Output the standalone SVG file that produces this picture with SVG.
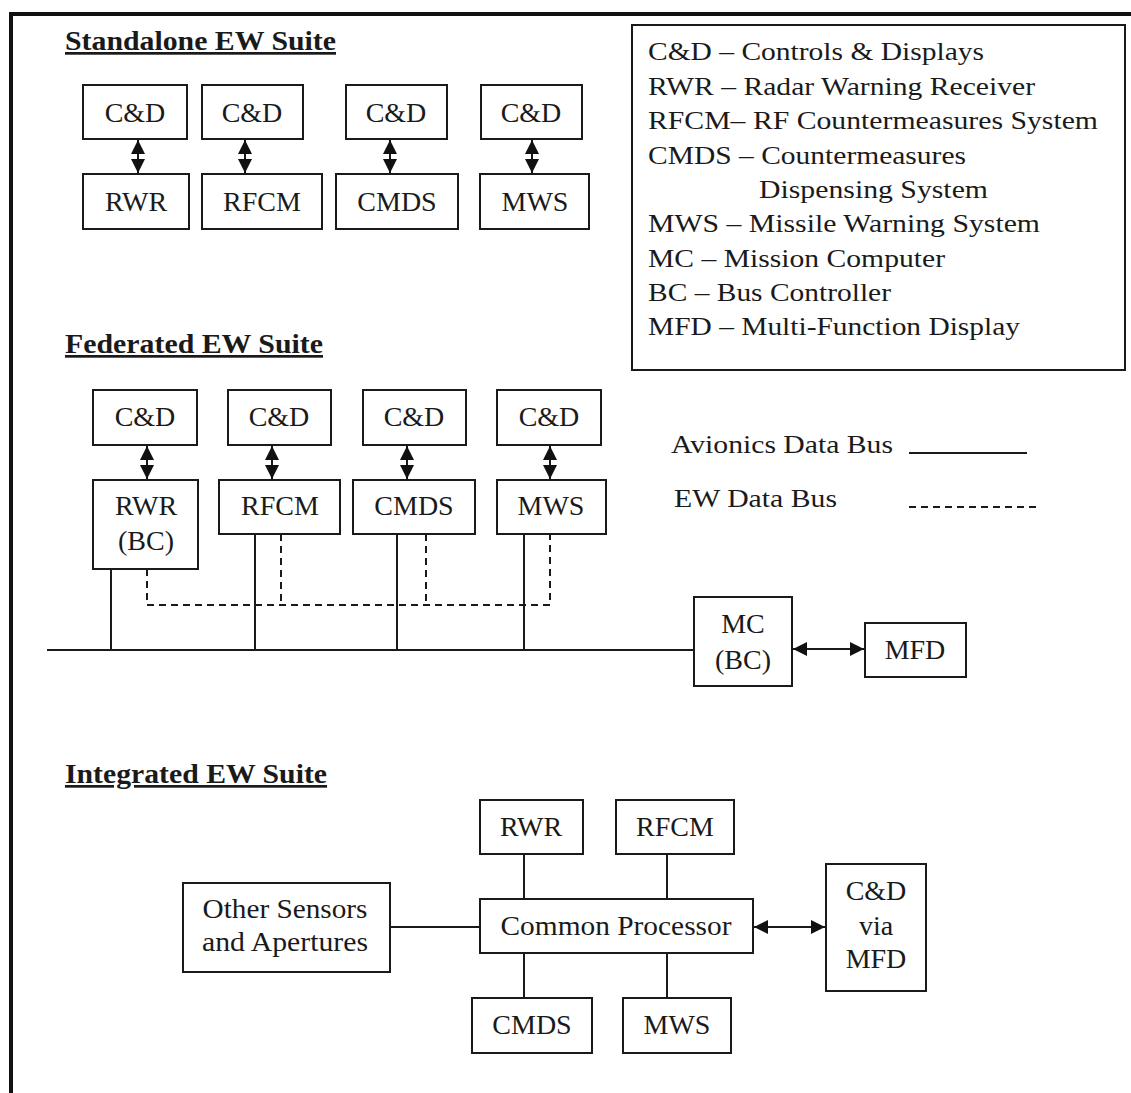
<svg xmlns="http://www.w3.org/2000/svg" width="1131" height="1093" viewBox="0 0 1131 1093">
<style>
  .box { fill: #fff; stroke: #1a1a1a; stroke-width: 2; }
  .lbl { font-family: "Liberation Serif", "Times New Roman", serif; font-size: 28px; fill: #1a1a1a; text-anchor: middle; }
  .leg { font-family: "Liberation Serif", "Times New Roman", serif; font-size: 26px; fill: #1a1a1a; }
  .ttl { font-family: "Liberation Serif", "Times New Roman", serif; font-size: 27px; font-weight: bold; fill: #1a1a1a; text-decoration: underline; }
  .ln { fill: none; stroke: #1a1a1a; stroke-width: 2; }
  .dash { fill: none; stroke: #1a1a1a; stroke-width: 2; stroke-dasharray: 7 5; }
  .arr { fill: none; stroke: #1a1a1a; stroke-width: 2; marker-start: url(#ah); marker-end: url(#ah); }
</style>
<defs>
  <marker id="ah" markerUnits="userSpaceOnUse" markerWidth="14" markerHeight="14" viewBox="0 0 14 14" refX="14" refY="7" orient="auto-start-reverse">
    <path d="M0,0 L14,7 L0,14 z" fill="#111"/>
  </marker>
</defs>
<rect width="1131" height="1093" fill="#fff"/>
<g id="frame">
  <line x1="11" y1="14" x2="1131" y2="14" stroke="#111" stroke-width="4"/>
  <line x1="11" y1="12" x2="11" y2="1093" stroke="#111" stroke-width="4"/>
</g>

<g id="titles">
  <text class="ttl" x="65" y="50" textLength="271" lengthAdjust="spacingAndGlyphs">Standalone EW Suite</text>
  <text class="ttl" x="65" y="353" textLength="258" lengthAdjust="spacingAndGlyphs">Federated EW Suite</text>
  <text class="ttl" x="65" y="783" textLength="262" lengthAdjust="spacingAndGlyphs">Integrated EW Suite</text>
</g>

<g id="legend">
  <rect class="box" x="632" y="25" width="493" height="345"/>
  <text class="leg" x="648" y="60" textLength="336" lengthAdjust="spacingAndGlyphs">C&amp;D – Controls &amp; Displays</text>
  <text class="leg" x="648" y="94.5" textLength="387" lengthAdjust="spacingAndGlyphs">RWR – Radar Warning Receiver</text>
  <text class="leg" x="648" y="129" textLength="450" lengthAdjust="spacingAndGlyphs">RFCM– RF Countermeasures System</text>
  <text class="leg" x="648" y="163.5" textLength="318" lengthAdjust="spacingAndGlyphs">CMDS – Countermeasures</text>
  <text class="leg" x="759" y="198" textLength="229" lengthAdjust="spacingAndGlyphs">Dispensing System</text>
  <text class="leg" x="648" y="232" textLength="392" lengthAdjust="spacingAndGlyphs">MWS – Missile  Warning System</text>
  <text class="leg" x="648" y="266.5" textLength="297" lengthAdjust="spacingAndGlyphs">MC – Mission Computer</text>
  <text class="leg" x="648" y="301" textLength="243" lengthAdjust="spacingAndGlyphs">BC – Bus Controller</text>
  <text class="leg" x="648" y="335" textLength="372" lengthAdjust="spacingAndGlyphs">MFD – Multi-Function Display</text>
</g>

<g id="bus-legend">
  <text class="leg" x="671" y="453" textLength="222" lengthAdjust="spacingAndGlyphs">Avionics Data Bus</text>
  <line class="ln" x1="909" y1="453" x2="1027" y2="453"/>
  <text class="leg" x="674" y="507" textLength="163" lengthAdjust="spacingAndGlyphs">EW Data Bus</text>
  <line class="dash" x1="909" y1="507" x2="1036" y2="507"/>
</g>

<!-- Standalone nodes -->
<g id="s-cd1"><rect class="box" x="83" y="85" width="104" height="54"/><text class="lbl" x="135" y="121.5">C&amp;D</text></g>
<g id="s-cd2"><rect class="box" x="202" y="85" width="101" height="54"/><text class="lbl" x="252" y="121.5">C&amp;D</text></g>
<g id="s-cd3"><rect class="box" x="346" y="85" width="101" height="54"/><text class="lbl" x="396" y="121.5">C&amp;D</text></g>
<g id="s-cd4"><rect class="box" x="481" y="85" width="101" height="54"/><text class="lbl" x="531" y="121.5">C&amp;D</text></g>
<g id="s-rwr"><rect class="box" x="83" y="174" width="106" height="55"/><text class="lbl" x="136" y="211">RWR</text></g>
<g id="s-rfcm"><rect class="box" x="202" y="174" width="120" height="55"/><text class="lbl" x="262" y="211">RFCM</text></g>
<g id="s-cmds"><rect class="box" x="336" y="174" width="122" height="55"/><text class="lbl" x="397" y="211">CMDS</text></g>
<g id="s-mws"><rect class="box" x="480" y="174" width="109" height="55"/><text class="lbl" x="535" y="211">MWS</text></g>

<!-- Federated nodes -->
<g id="f-cd1"><rect class="box" x="93" y="390" width="104" height="55"/><text class="lbl" x="145" y="426">C&amp;D</text></g>
<g id="f-cd2"><rect class="box" x="228" y="390" width="103" height="55"/><text class="lbl" x="279" y="426">C&amp;D</text></g>
<g id="f-cd3"><rect class="box" x="363" y="390" width="103" height="55"/><text class="lbl" x="414" y="426">C&amp;D</text></g>
<g id="f-cd4"><rect class="box" x="497" y="390" width="104" height="55"/><text class="lbl" x="549" y="426">C&amp;D</text></g>
<g id="f-rwr"><rect class="box" x="93" y="480" width="105" height="89"/><text class="lbl" x="146" y="515">RWR</text><text class="lbl" x="146" y="550">(BC)</text></g>
<g id="f-rfcm"><rect class="box" x="219" y="480" width="121" height="54"/><text class="lbl" x="280" y="515">RFCM</text></g>
<g id="f-cmds"><rect class="box" x="353" y="480" width="122" height="54"/><text class="lbl" x="414" y="515">CMDS</text></g>
<g id="f-mws"><rect class="box" x="497" y="480" width="109" height="54"/><text class="lbl" x="551" y="515">MWS</text></g>
<g id="f-mc"><rect class="box" x="694" y="597" width="98" height="89"/><text class="lbl" x="743" y="633">MC</text><text class="lbl" x="743" y="669">(BC)</text></g>
<g id="f-mfd"><rect class="box" x="865" y="623" width="101" height="54"/><text class="lbl" x="915" y="659">MFD</text></g>

<!-- Integrated nodes -->
<g id="i-rwr"><rect class="box" x="480" y="800" width="103" height="54"/><text class="lbl" x="531" y="836">RWR</text></g>
<g id="i-rfcm"><rect class="box" x="616" y="800" width="118" height="54"/><text class="lbl" x="675" y="836">RFCM</text></g>
<g id="i-cp"><rect class="box" x="480" y="899" width="273" height="54"/><text class="lbl" x="616" y="935" textLength="231" lengthAdjust="spacingAndGlyphs">Common Processor</text></g>
<g id="i-other"><rect class="box" x="183" y="883" width="207" height="89"/><text class="lbl" x="285" y="918" textLength="165" lengthAdjust="spacingAndGlyphs">Other Sensors</text><text class="lbl" x="285" y="951" textLength="166" lengthAdjust="spacingAndGlyphs">and Apertures</text></g>
<g id="i-cd"><rect class="box" x="826" y="864" width="100" height="127"/><text class="lbl" x="876" y="900">C&amp;D</text><text class="lbl" x="876" y="935">via</text><text class="lbl" x="876" y="968">MFD</text></g>
<g id="i-cmds"><rect class="box" x="472" y="998" width="120" height="55"/><text class="lbl" x="532" y="1034">CMDS</text></g>
<g id="i-mws"><rect class="box" x="623" y="998" width="108" height="55"/><text class="lbl" x="677" y="1034">MWS</text></g>

<g id="connectors">
  <!-- standalone -->
  <line class="arr" x1="138" y1="140" x2="138" y2="173"/>
  <line class="arr" x1="245" y1="140" x2="245" y2="173"/>
  <line class="arr" x1="390" y1="140" x2="390" y2="173"/>
  <line class="arr" x1="532" y1="140" x2="532" y2="173"/>
  <!-- federated -->
  <line class="arr" x1="147" y1="446" x2="147" y2="479"/>
  <line class="arr" x1="272" y1="446" x2="272" y2="479"/>
  <line class="arr" x1="407" y1="446" x2="407" y2="479"/>
  <line class="arr" x1="550" y1="446" x2="550" y2="479"/>
  <path class="ln" d="M47,650 H694"/>
  <path class="ln" d="M111,569 V650 M255,534 V650 M397,534 V650 M524,534 V650"/>
  <path class="dash" d="M147,569 V605 H550 V534"/>
  <path class="dash" d="M281,534 V605 M426,534 V605"/>
  <line class="arr" x1="793" y1="649" x2="864" y2="649"/>
  <!-- integrated -->
  <path class="ln" d="M524,854 V899 M667,854 V899 M524,953 V998 M667,953 V998"/>
  <path class="ln" d="M390,927 H480"/>
  <line class="arr" x1="754" y1="927" x2="825" y2="927"/>
</g>
</svg>
